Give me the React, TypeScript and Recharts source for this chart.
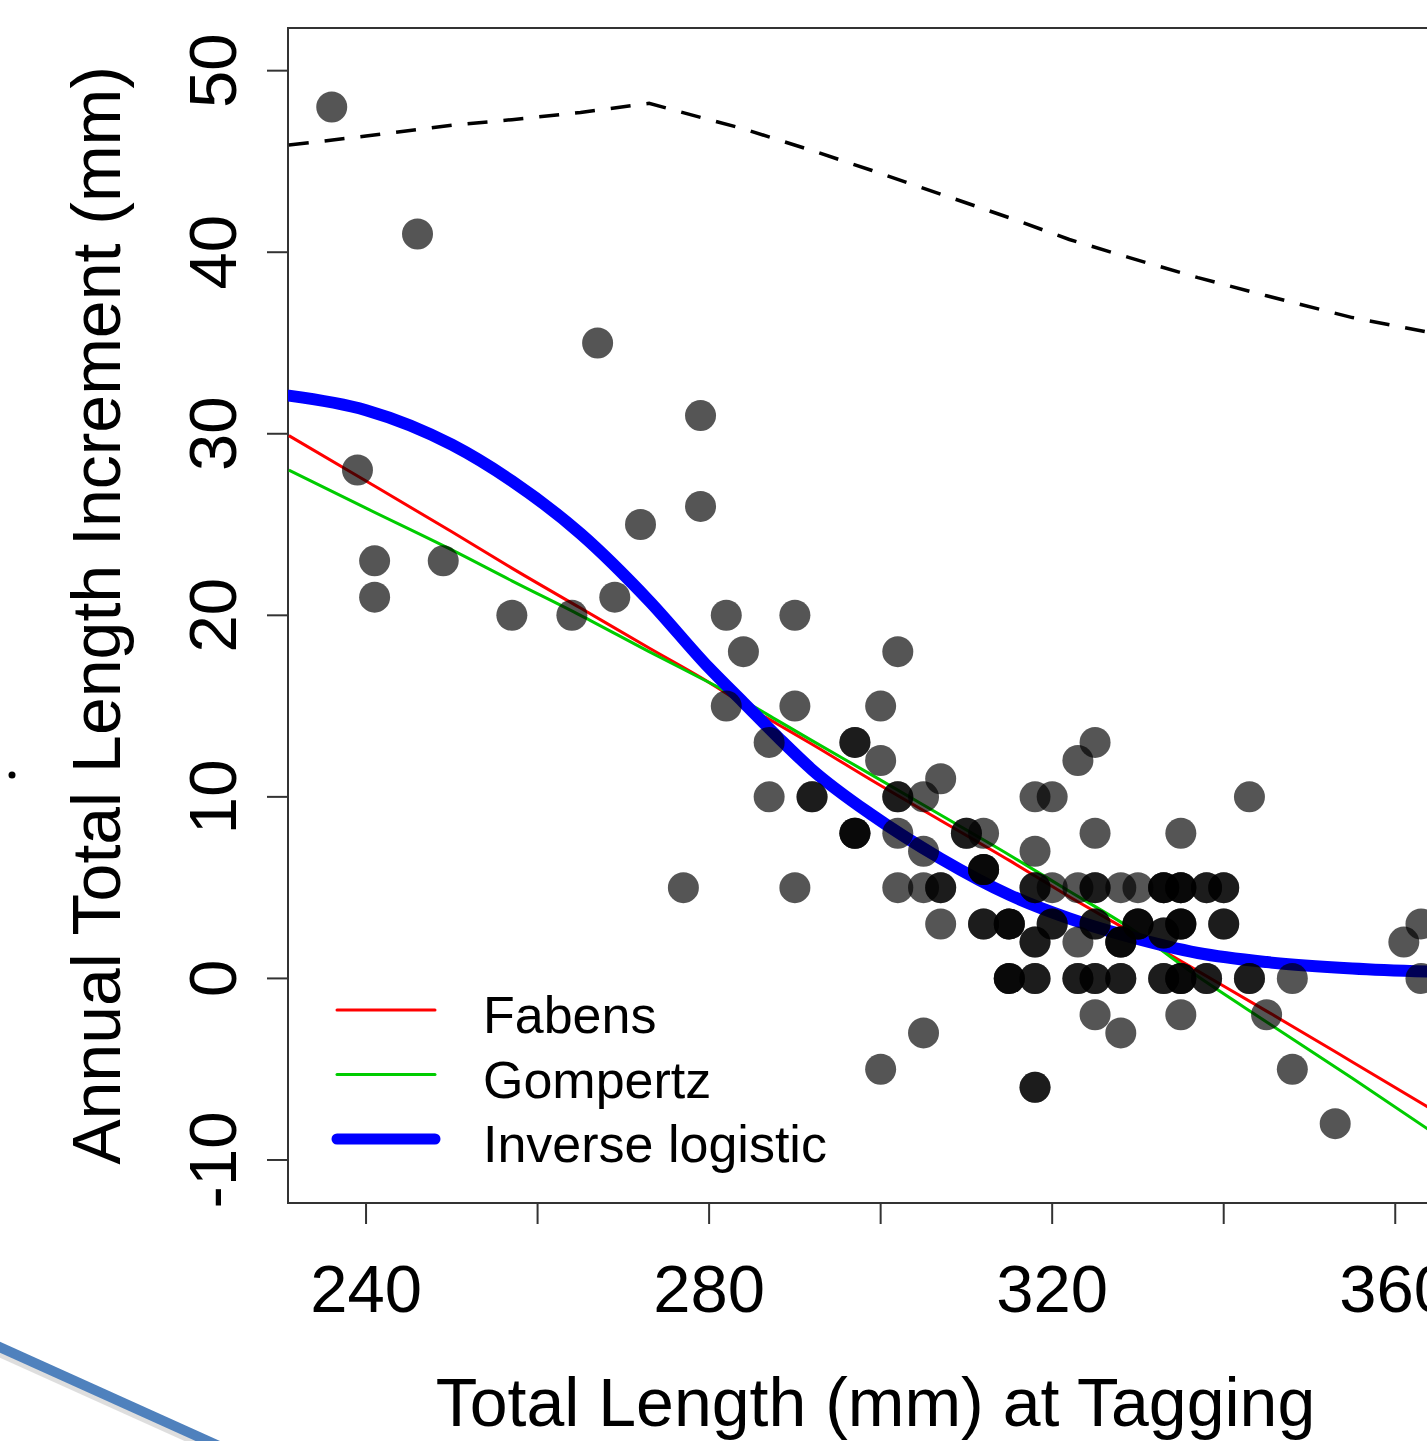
import {
  ComposedChart,
  Scatter,
  Line,
  XAxis,
  YAxis,
  ReferenceArea,
  Legend,
} from "recharts";

// observed tag-recapture pairs (duplicates = overlapping fish)
const obsLength = [
  236, 246, 267, 279, 279, 239, 241, 241, 249, 257, 264, 269, 272, 282, 284, 290,
  282, 290, 287, 287, 290, 277, 300, 302, 300, 307, 305, 302, 305, 312, 302, 305,
  307, 323, 325, 318, 320, 343, 325, 335, 318, 320, 323, 328, 330, 323, 348, 363,
  335, 345, 348, 353, 361, 363, 300, 305, 328, 325,
  292, 292, 297, 297, 297, 297, 297, 302, 302, 310, 310, 312, 312, 312, 307, 307,
  312, 312, 315, 315, 315, 318, 318,
  315, 315, 315, 318, 318, 323, 323, 325, 325, 328, 328, 333, 333, 335, 335, 335,
  338, 338, 343, 343,
  318, 318, 328, 328, 328, 333, 333,
  320, 320, 325, 325, 330, 330, 330, 335, 335, 335, 340, 340,
  318, 318, 325, 325, 333, 333, 333, 335, 335, 335, 338, 338, 340, 340,
];
const obsIncrement = [
  48, 41, 35, 31, 26, 28, 23, 21, 23, 20, 20, 21, 25, 20, 18, 20,
  15, 15, 13, 10, 5, 5, 15, 18, 12, 11, 10, 8, 7, 8, 5, 5,
  3, 12, 13, 10, 10, 10, 8, 8, 7, 5, 5, 5, 5, 2, 0, 0,
  -2, -2, -5, -8, 2, 3, -5, -3, -3, -2,
  10, 10, 13, 13, 8, 8, 8, 10, 10, 8, 8, 6, 6, 6, 5, 5,
  3, 3, 3, 3, 3, -6, -6,
  0, 0, 0, 0, 0, 0, 0, 0, 0, 0, 0, 0, 0, 0, 0, 0,
  0, 0, 0, 0,
  2, 2, 2, 2, 2, 2.5, 2.5,
  3, 3, 3, 3, 3, 3, 3, 3, 3, 3, 3, 3,
  5, 5, 5, 5, 5, 5, 5, 5, 5, 5, 5, 5, 5, 5,
];

// fitted curves, read at these lengths
const curveLength = [231, 240, 250, 257, 265, 273, 280, 284, 288, 292, 299, 307, 315, 322, 329, 337, 345, 355, 366];
const fabens = [29.9, 27.4, 24.6, 22.6, 20.4, 18.2, 16.3, 15.1, 14.0, 12.9, 10.9, 8.7, 6.5, 4.5, 2.6, 0.4, -1.8, -4.6, -7.7];
const gompertz = [28.0, 25.9, 23.6, 21.9, 20.0, 18.0, 16.3, 15.3, 14.2, 13.1, 11.2, 9.0, 6.8, 4.8, 2.8, 0.1, -2.4, -5.5, -9.0];
const inverseLogistic = [32.1, 31.3, 29.4, 27.4, 24.5, 20.8, 17.1, 15.2, 13.3, 11.5, 9.0, 6.6, 4.6, 3.3, 2.3, 1.4, 0.9, 0.55, 0.35];
const upperBound = [45.9, 46.4, 47.0, 47.3, 47.7, 48.2, 47.3, 46.8, 46.2, 45.6, 44.5, 43.2, 41.9, 40.7, 39.7, 38.6, 37.6, 36.4, 35.4];

const xTicks = [240, 260, 280, 300, 320, 340, 360];
const xTickLabels = ["240", "", "280", "", "320", "", "360"];
const yTicks = [-10, 0, 10, 20, 30, 40, 50];

const legendNames = ["Fabens", "Gompertz", "Inverse logistic"];
const legendColors = ["#ff0000", "#00cc00", "#0000ff"];
const legendWidths = [3, 3, 11];

const X_DOMAIN: [number, number] = [230.9, 367.9];
const Y_DOMAIN: [number, number] = [-12.37, 52.35];
const FONT = "'Liberation Sans', Arial, sans-serif";
const AXIS = "#333333";

const obs = obsLength.map((x, i) => ({ x, y: obsIncrement[i] }));
const toSeries = (vals: number[]) => curveLength.map((x, i) => ({ x, y: vals[i] }));

const Dot = (props: any) => (
  <circle cx={props.cx} cy={props.cy} r={15.5} fill="#000" fillOpacity={0.667} />
);

const XTick = ({ x, y, payload, index }: any) => (
  <text x={x} y={y} dy={50} textAnchor="middle" fontSize={67} fontFamily={FONT} fill="#000">
    {xTickLabels[index] ?? payload.value}
  </text>
);

const YTick = ({ x, y, payload }: any) => (
  <text
    x={x}
    y={y}
    transform={`rotate(-90 ${x} ${y})`}
    textAnchor="middle"
    fontSize={67}
    fontFamily={FONT}
    fill="#000"
  >
    {payload.value}
  </text>
);

const LegendBox = () => (
  <svg width={600} height={220}>
    {legendNames.map((name, i) => {
      const ly = 40 + i * 64.5;
      return (
        <g key={name}>
          <line
            x1={17}
            x2={115}
            y1={ly}
            y2={ly}
            stroke={legendColors[i]}
            strokeWidth={legendWidths[i]}
            strokeLinecap="round"
          />
          <text x={163} y={ly + 23} fontSize={52} fontFamily={FONT} fill="#000">
            {name}
          </text>
        </g>
      );
    })}
  </svg>
);

export default function App() {
  return (
    <div
      style={{
        position: "absolute",
        left: 0,
        top: 0,
        width: 1427,
        height: 1441,
        overflow: "hidden",
        background: "#fff",
      }}
    >
      <ComposedChart
        width={1463}
        height={1441}
        margin={{ top: 28, right: 0, bottom: 0, left: 0 }}
      >
        <XAxis
          type="number"
          dataKey="x"
          domain={X_DOMAIN}
          allowDataOverflow
          ticks={xTicks}
          interval={0}
          height={238}
          axisLine={false}
          tickLine={{ stroke: AXIS, strokeWidth: 2 }}
          tickSize={21}
          tickMargin={38}
          tick={<XTick />}
          label={{
            content: ({ viewBox }: any) => (
              <text
                x={viewBox.x + viewBox.width / 2}
                y={1426}
                textAnchor="middle"
                fontSize={68}
                fontFamily={FONT}
                fill="#000"
              >
                Total Length (mm) at Tagging
              </text>
            ),
          }}
        />
        <YAxis
          type="number"
          dataKey="y"
          domain={Y_DOMAIN}
          allowDataOverflow
          ticks={yTicks}
          interval={0}
          width={288}
          axisLine={false}
          tickLine={{ stroke: AXIS, strokeWidth: 2 }}
          tickSize={21}
          tickMargin={31}
          tick={<YTick />}
          label={{
            content: ({ viewBox }: any) => {
              const cy = viewBox.y + viewBox.height / 2;
              return (
                <text
                  x={120}
                  y={cy}
                  transform={`rotate(-90 120 ${cy})`}
                  textAnchor="middle"
                  fontSize={68}
                  fontFamily={FONT}
                  fill="#000"
                >
                  Annual Total Length Increment (mm)
                </text>
              );
            },
          }}
        />
        <ReferenceArea
          x1={X_DOMAIN[0]}
          x2={X_DOMAIN[1]}
          y1={Y_DOMAIN[0]}
          y2={Y_DOMAIN[1]}
          fill="none"
          stroke={AXIS}
          strokeWidth={2}
        />
        <Scatter data={obs} dataKey="y" shape={<Dot />} isAnimationActive={false} />
        <Line
          data={toSeries(upperBound)}
          dataKey="y"
          type="linear"
          stroke="#000"
          strokeWidth={3.5}
          strokeDasharray="20 16"
          dot={false}
          activeDot={false}
          isAnimationActive={false}
        />
        <Line
          data={toSeries(fabens)}
          dataKey="y"
          type="monotone"
          stroke="#ff0000"
          strokeWidth={3}
          dot={false}
          activeDot={false}
          isAnimationActive={false}
        />
        <Line
          data={toSeries(gompertz)}
          dataKey="y"
          type="monotone"
          stroke="#00cc00"
          strokeWidth={3}
          dot={false}
          activeDot={false}
          isAnimationActive={false}
        />
        <Line
          data={toSeries(inverseLogistic)}
          dataKey="y"
          type="monotone"
          stroke="#0000ff"
          strokeWidth={12}
          strokeLinecap="round"
          dot={false}
          activeDot={false}
          isAnimationActive={false}
        />
        <Legend
          layout="horizontal"
          verticalAlign="middle"
          align="center"
          wrapperStyle={{ position: "absolute", left: 320, top: 970, width: 600, height: 220 }}
          content={() => <LegendBox />}
        />
      </ComposedChart>
      {/* slide leftovers outside the figure */}
      <svg
        width={300}
        height={1441}
        style={{ position: "absolute", left: 0, top: 0, pointerEvents: "none" }}
      >
        <circle cx={12} cy={775} r={3.5} fill="#000" />
        <line x1={-5} y1={1350} x2={230} y2={1456} stroke="#bfbfbf" strokeWidth={10} opacity={0.5} />
        <line x1={-5} y1={1345} x2={230} y2={1451} stroke="#4f81bd" strokeWidth={10} />
      </svg>
    </div>
  );
}
